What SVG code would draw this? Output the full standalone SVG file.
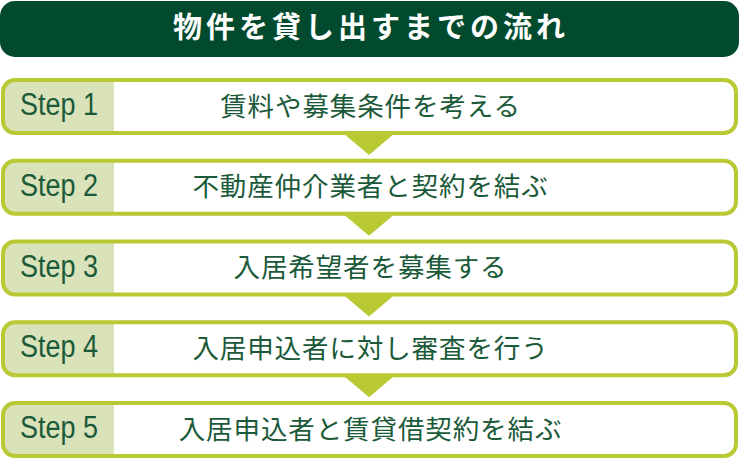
<svg xmlns="http://www.w3.org/2000/svg" width="740" height="465" viewBox="0 0 740 465">
  <style>
    .title { font-family: "Noto Sans CJK JP", "Noto Sans", sans-serif; font-size: 29px; font-weight: bold; fill: #ffffff; letter-spacing: 4px; }
    .frame { fill: none; stroke: #b8c933; stroke-width: 4; }
    .bg { fill: #ffffff; }
    .label-bg { fill: #d9e2b9; }
    .step { font-family: "Liberation Sans", Arial, sans-serif; font-size: 31px; fill: #1b5a39; }
    .desc { font-family: "Noto Sans CJK JP", "Noto Sans", sans-serif; font-size: 26.5px; fill: #1b5a39; letter-spacing: 0.9px; text-anchor: middle; }
    .arrow { fill: #b8c933; }
  </style>
  <defs>
    <clipPath id="c1"><rect x="3" y="80" width="733" height="53" rx="12"/></clipPath>
    <clipPath id="c2"><rect x="3" y="160.75" width="733" height="53" rx="12"/></clipPath>
    <clipPath id="c3"><rect x="3" y="241.5" width="733" height="53" rx="12"/></clipPath>
    <clipPath id="c4"><rect x="3" y="322.25" width="733" height="53" rx="12"/></clipPath>
    <clipPath id="c5"><rect x="3" y="403" width="733" height="53" rx="12"/></clipPath>
  </defs>

  <g id="header">
    <rect x="0" y="1" width="739" height="56" rx="15" fill="#014a2e"/>
    <text class="title" x="371" y="38" text-anchor="middle">物件を貸し出すまでの流れ</text>
  </g>

  <g id="connectors">
    <polygon class="arrow" points="343,133 395,133 369,155"/>
    <polygon class="arrow" points="343,213.75 395,213.75 369,235.75"/>
    <polygon class="arrow" points="343,294.5 395,294.5 369,316.5"/>
    <polygon class="arrow" points="343,375.25 395,375.25 369,397.25"/>
  </g>

  <g id="step1">
    <rect class="bg" x="3" y="80" width="733" height="53" rx="12"/>
    <rect class="label-bg" x="3" y="80" width="111" height="53" clip-path="url(#c1)"/>
    <rect class="frame" x="3" y="80" width="733" height="53" rx="12"/>
    <text class="step" x="20" y="115" textLength="78" lengthAdjust="spacingAndGlyphs">Step 1</text>
    <text class="desc" x="370.5" y="115.5">賃料や募集条件を考える</text>
  </g>

  <g id="step2">
    <rect class="bg" x="3" y="160.75" width="733" height="53" rx="12"/>
    <rect class="label-bg" x="3" y="160.75" width="111" height="53" clip-path="url(#c2)"/>
    <rect class="frame" x="3" y="160.75" width="733" height="53" rx="12"/>
    <text class="step" x="20" y="195.75" textLength="78" lengthAdjust="spacingAndGlyphs">Step 2</text>
    <text class="desc" x="370.5" y="196.25">不動産仲介業者と契約を結ぶ</text>
  </g>

  <g id="step3">
    <rect class="bg" x="3" y="241.5" width="733" height="53" rx="12"/>
    <rect class="label-bg" x="3" y="241.5" width="111" height="53" clip-path="url(#c3)"/>
    <rect class="frame" x="3" y="241.5" width="733" height="53" rx="12"/>
    <text class="step" x="20" y="276.5" textLength="78" lengthAdjust="spacingAndGlyphs">Step 3</text>
    <text class="desc" x="370.5" y="277">入居希望者を募集する</text>
  </g>

  <g id="step4">
    <rect class="bg" x="3" y="322.25" width="733" height="53" rx="12"/>
    <rect class="label-bg" x="3" y="322.25" width="111" height="53" clip-path="url(#c4)"/>
    <rect class="frame" x="3" y="322.25" width="733" height="53" rx="12"/>
    <text class="step" x="20" y="357.25" textLength="78" lengthAdjust="spacingAndGlyphs">Step 4</text>
    <text class="desc" x="370.5" y="357.75">入居申込者に対し審査を行う</text>
  </g>

  <g id="step5">
    <rect class="bg" x="3" y="403" width="733" height="53" rx="12"/>
    <rect class="label-bg" x="3" y="403" width="111" height="53" clip-path="url(#c5)"/>
    <rect class="frame" x="3" y="403" width="733" height="53" rx="12"/>
    <text class="step" x="20" y="438" textLength="78" lengthAdjust="spacingAndGlyphs">Step 5</text>
    <text class="desc" x="370.5" y="438.5">入居申込者と賃貸借契約を結ぶ</text>
  </g>
</svg>
